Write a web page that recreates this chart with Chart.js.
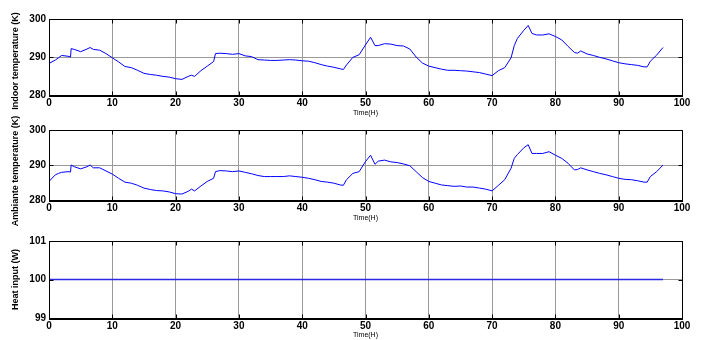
<!DOCTYPE html>
<html>
<head>
<meta charset="utf-8">
<script src="https://cdn.jsdelivr.net/npm/chart.js@4/dist/chart.umd.min.js"></script>
<style>
  body { margin: 0; background: #fff; }
  canvas { position: absolute; left: 0; top: 0; }
</style>
</head>
<body>
<canvas id="indoor" width="703" height="340"></canvas>
<canvas id="ambient" width="703" height="340"></canvas>
<canvas id="heat" width="703" height="340"></canvas>
<script>
// time in hours, shared by the two temperature plots
const hours = [
  0, 1, 1.5, 2, 3, 3.4, 3.5, 4, 5, 6,
  6.5, 7, 8, 9, 10, 11, 12, 13, 14, 15,
  16, 17, 18, 19, 20, 21, 22, 22.5, 23, 24,
  25, 26, 26.3, 27, 28, 29, 30, 31, 32, 33,
  34, 35, 36, 37, 38, 39, 40, 41, 42, 43,
  44, 45, 46, 46.5, 47, 48, 49, 50, 50.8, 51.5,
  52, 53, 54, 55, 56, 57, 58, 59, 60, 61,
  62, 63, 64, 65, 66, 67, 68, 69, 70, 71,
  72, 73, 73.5, 74, 75, 75.7, 76.3, 77, 78, 79,
  80, 81, 82, 83, 83.5, 84, 85, 86, 87, 88,
  89, 90, 91, 92, 93, 94, 94.5, 95, 96, 97
];

const indoorTemp = [
  288.3, 289.2, 289.8, 290.4, 290.2, 290.0, 292.2, 292.0, 291.4, 292.1,
  292.5, 292.0, 291.8, 290.9, 289.8, 288.7, 287.5, 287.2, 286.5, 285.7,
  285.4, 285.2, 284.9, 284.7, 284.3, 284.1, 284.9, 285.2, 284.9, 286.4,
  287.6, 288.8, 290.9, 291.0, 290.9, 290.7, 290.9, 290.3, 290.1, 289.3,
  289.2, 289.1, 289.1, 289.2, 289.3, 289.2, 289.0, 288.9, 288.5, 288.0,
  287.6, 287.3, 286.9, 286.7, 287.9, 289.9, 290.6, 293.2, 295.2, 293.0,
  293.0, 293.5, 293.4, 293.0, 292.9, 292.1, 290.0, 288.4, 287.6, 287.2,
  286.8, 286.5, 286.5, 286.4, 286.3, 286.1, 285.9, 285.5, 285.1, 286.4,
  287.2, 289.8, 293.0, 294.9, 297.0, 298.3, 296.2, 295.8, 295.8, 296.1,
  295.4, 294.5, 292.8, 291.2, 291.0, 291.6, 290.8, 290.4, 289.9, 289.5,
  289.0, 288.5, 288.2, 288.0, 287.8, 287.4, 287.4, 288.9, 290.5, 292.5
];

const ambientTemp = [
  285.3, 287.2, 287.6, 287.9, 288.1, 288.0, 290.0, 289.5, 288.9, 289.5,
  290.0, 289.2, 289.2, 288.3, 287.4, 286.2, 285.1, 284.8, 284.2, 283.4,
  283.0, 282.7, 282.6, 282.3, 281.8, 281.7, 282.5, 283.1, 282.6, 284.0,
  285.3, 286.2, 288.1, 288.4, 288.3, 288.1, 288.3, 287.9, 287.5, 287.0,
  286.7, 286.7, 286.7, 286.7, 286.9, 286.7, 286.5, 286.2, 285.8, 285.3,
  285.1, 284.8, 284.3, 284.2, 285.8, 287.6, 288.1, 291.0, 292.8, 290.2,
  291.1, 291.4, 290.9, 290.7, 290.3, 289.8, 288.1, 286.4, 285.3, 284.8,
  284.3, 284.1, 283.9, 284.0, 283.7, 283.7, 283.4, 283.1, 282.6, 284.2,
  285.8, 289.1, 291.9, 293.0, 294.9, 295.8, 293.3, 293.3, 293.3, 293.8,
  292.8, 291.9, 290.5, 288.6, 288.7, 289.2, 288.6, 288.1, 287.6, 287.2,
  286.7, 286.2, 285.9, 285.8, 285.5, 285.1, 285.1, 286.7, 288.1, 290.0
];

const heatHours = [0, 97];
const heatInput = [100, 100];

const FONT = "'Liberation Sans', Arial, sans-serif";

// black frame, short inward tick marks and the rotated y label (matlab look)
const boxPlugin = {
  id: 'box',
  afterDraw(chart, args, opts) {
    const ctx = chart.ctx;
    const a = chart.chartArea;
    const xs = chart.scales.x, ys = chart.scales.y;
    const L = Math.round(a.left) + 0.5, R = Math.round(a.right) + 0.5;
    const T = Math.round(a.top) + 0.5, B = Math.round(a.bottom) + 0.5;
    ctx.save();
    ctx.strokeStyle = '#000';
    ctx.lineWidth = 1;
    ctx.beginPath();
    ctx.moveTo(L, B); ctx.lineTo(L, T); ctx.lineTo(R, T); ctx.lineTo(R, B);
    xs.ticks.forEach(t => {
      const px = Math.round(xs.getPixelForValue(t.value)) + 0.5;
      ctx.moveTo(px, T); ctx.lineTo(px, T + 4);
      ctx.moveTo(px, B); ctx.lineTo(px, B - 4);
    });
    ys.ticks.forEach(t => {
      const py = Math.round(ys.getPixelForValue(t.value)) + 0.5;
      ctx.moveTo(L, py); ctx.lineTo(L + 4, py);
      ctx.moveTo(R, py); ctx.lineTo(R - 4, py);
    });
    ctx.stroke();
    ctx.lineWidth = 2;
    ctx.beginPath();
    ctx.moveTo(L - 0.5, B + 0.5); ctx.lineTo(R + 0.5, B + 0.5);
    ctx.stroke();

    ctx.translate(16, (a.top + a.bottom) / 2 + (opts.shift || 0));
    ctx.rotate(-Math.PI / 2);
    ctx.fillStyle = '#000';
    ctx.font = 'bold 9px ' + FONT;
    ctx.textAlign = 'center';
    ctx.textBaseline = 'middle';
    ctx.fillText(opts.label, 0, 0);
    ctx.restore();
  }
};

function makePanel(id, xs, ys, opts) {
  const pts = xs.map((x, i) => ({ x: x, y: ys[i] }));
  return new Chart(document.getElementById(id), {
    type: 'line',
    data: {
      datasets: [{
        data: pts,
        borderColor: opts.color || '#0000ff',
        borderWidth: opts.width || 1,
        pointRadius: 0,
        tension: 0
      }]
    },
    options: {
      responsive: false,
      animation: false,
      layout: { padding: { left: 0, right: 21, top: opts.top, bottom: opts.bottom } },
      plugins: {
        legend: { display: false },
        tooltip: { enabled: false },
        box: { label: opts.yTitle, shift: opts.shift }
      },
      scales: {
        x: {
          type: 'linear', min: 0, max: 100,
          afterFit: s => { s.height = opts.axisH; },
          ticks: { stepSize: 10, padding: 2, color: '#000', maxRotation: 0,
                   font: { family: FONT, size: 10, weight: 'bold' } },
          grid: { color: '#999', drawTicks: false },
          border: { display: false },
          title: { display: true, text: 'Time(H)', color: '#000',
                   padding: { top: 0, bottom: 1 },
                   font: { family: FONT, size: 7 } }
        },
        y: {
          min: opts.yMin, max: opts.yMax,
          afterFit: s => { s.width = 49; },
          ticks: { stepSize: opts.yStep, padding: 3, color: '#000',
                   font: { family: FONT, size: 10, weight: 'bold' } },
          grid: { color: '#999', drawTicks: false },
          border: { display: false }
        }
      }
    },
    plugins: [boxPlugin]
  });
}

makePanel('indoor', hours, indoorTemp, {
  yMin: 280, yMax: 300, yStep: 10, yTitle: 'Indoor temperature (K)',
  top: 19, bottom: 222, axisH: 23, shift: 4
});
makePanel('ambient', hours, ambientTemp, {
  yMin: 280, yMax: 300, yStep: 10, yTitle: 'Ambiante temperature (K)',
  top: 130, bottom: 117, axisH: 23, shift: 6
});
makePanel('heat', heatHours, heatInput, {
  yMin: 99, yMax: 101, yStep: 1, yTitle: 'Heat input (W)',
  top: 241, bottom: 0, axisH: 22, color: '#2a2ae0', width: 1.5
});
</script>
</body>
</html>
